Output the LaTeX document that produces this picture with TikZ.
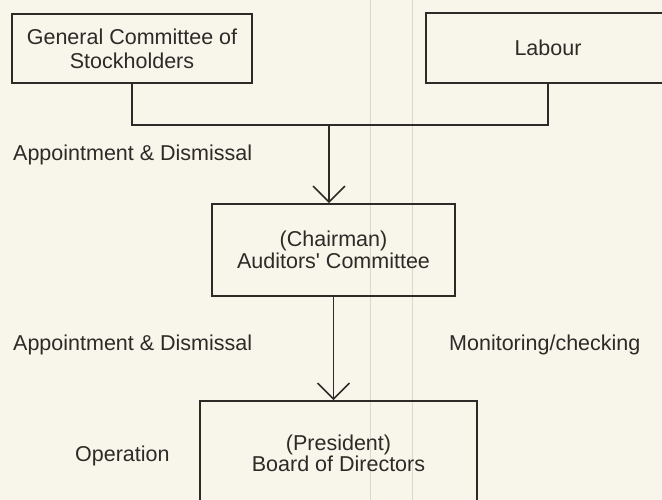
\documentclass[tikz,border=0pt]{standalone}
\usepackage{fontspec}
\setmainfont{Liberation Sans}
\usetikzlibrary{arrows.meta}
\definecolor{paper}{RGB}{248,245,234}
\definecolor{ink}{RGB}{45,42,40}
\definecolor{fold}{RGB}{226,212,200}
\begin{document}
\begin{tikzpicture}[x=1pt,y=-1pt,
  font=\fontsize{21.5}{24}\selectfont,
  every node/.style={text=ink},
  orgbox/.style={draw=ink, line width=1.6pt, align=center, inner sep=0pt},
  lbl/.style={anchor=west, inner sep=0pt},
  link/.style={draw=ink, line width=1.6pt},
  down/.style={link, -{Straight Barb[length=16pt,width=32pt,line width=1.6pt]}}]
  % paper and frame
  \fill[paper] (0,0) rectangle (662,500);
  \useasboundingbox (0,0) rectangle (662,500);
  \clip (0,0) rectangle (662,500);
  % faint fold lines of the page
  \draw[fold, line width=0.8pt] (370,0) -- (370,500);
  \draw[fold, line width=0.8pt] (412,0) -- (412,500);

  % boxes
  \node[orgbox, minimum width=240pt, minimum height=69pt] (gen) at (132,48.5)
    {General Committee of\\Stockholders};
  \node[orgbox, minimum width=244pt, minimum height=70pt] (lab) at (548,48)
    {Labour};
  \node[orgbox, minimum width=243pt, minimum height=92pt] (aud) at (333.5,250)
    {(Chairman)\\[-2pt]Auditors\textquotesingle\ Committee};
  \node[orgbox, minimum width=277pt, minimum height=104pt] (brd) at (338.5,453)
    {(President)\\[-3pt]Board of Directors};

  % connectors
  \coordinate (jn) at (329,125);
  \draw[link] (gen.south) |- (jn) -| (lab.south);
  \draw[down] (jn) -- (jn |- aud.north);
  \draw[down] (aud.south) -- (aud.south |- brd.north);

  % labels
  \node[lbl] (ad1) at (13,155) {Appointment \& Dismissal};
  \node[lbl] (ad2) at (13,345) {Appointment \& Dismissal};
  \node[lbl] (mon) at (449,345) {Monitoring/checking};
  \node[lbl] (opr) at (75,456) {Operation};
\end{tikzpicture}
\end{document}
